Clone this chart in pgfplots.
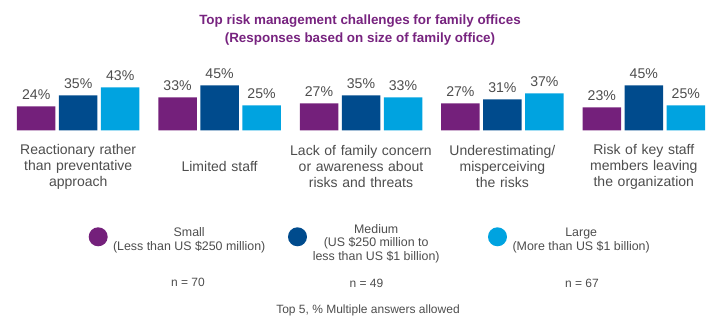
\documentclass[border=0pt]{standalone}
\usepackage{pgfplots}
\pgfplotsset{compat=1.18}
\usepackage{fontspec}
\setmainfont{Liberation Sans}
\definecolor{cpurple}{HTML}{74207B}
\definecolor{cdblue}{HTML}{004B8D}
\definecolor{clblue}{HTML}{00A3E0}
\definecolor{ctext}{HTML}{4D4D4D}
\definecolor{ctitle}{HTML}{77237F}
\pgfplotsset{mycircle/.style={legend image code/.code={\fill (9.5bp,-0.8bp) circle[radius=9.5bp];}}}
\begin{document}
\begin{tikzpicture}
\path[use as bounding box] (0,0) rectangle (720bp,330bp);
\begin{axis}[
  at={(7.5bp,199.5bp)}, anchor=south west,
  x=141.4bp, y=1bp,
  xmin=-0.5, xmax=4.5, ymin=0, ymax=50,
  ybar=3.5bp, bar width=38.5bp,
  axis line style={draw=none}, tick style={draw=none},
  ytick=\empty,
  xtick={0,1,2,3,4},
  xticklabels={{Reactionary rather\\than preventative\\approach},{Limited staff},{Lack of family concern\\or awareness about\\risks and threats},{Underestimating/\\misperceiving\\the risks},{Risk of key staff\\members leaving\\the organization}},
  xticklabel style={anchor=center, yshift=-32bp, text width=150bp, align=center, font=\fontsize{14bp}{16bp}\selectfont, text=ctext},
  /pgf/number format/assume math mode=true,
  nodes near coords={\pgfmathprintnumber{\pgfplotspointmeta}\%},
  every node near coord/.append style={font=\fontsize{14.1bp}{16bp}\selectfont, text=ctext, anchor=south, inner sep=0pt, yshift=6.5bp},
  clip=false,
  legend columns=3,
  legend style={draw=none, fill=none, at={(axis cs:0.0728,-105.5)}, anchor=west, inner sep=0pt, column sep=0pt, font=\fontsize{12.4bp}{13.8bp}\selectfont, text=ctext, nodes={inner sep=0pt}},
]
\addplot[fill=cpurple, draw=none, mycircle] coordinates {(0,24) (1,33) (2,27) (3,27) (4,23)};
\addlegendentry{\makebox[163bp][c]{\begin{tabular}{@{}c@{}}Small\\(Less than US \$250 million)\end{tabular}}\hspace*{17.3bp}}
\addplot[fill=cdblue, draw=none, mycircle] coordinates {(0,35) (1,45) (2,35) (3,31) (4,45)};
\addlegendentry{\makebox[138.4bp][c]{\begin{tabular}{@{}c@{}}Medium\\(US \$250 million to\\less than US \$1 billion)\end{tabular}}\hspace*{42.6bp}}
\addplot[fill=clblue, draw=none, mycircle] coordinates {(0,43) (1,25) (2,33) (3,37) (4,25)};
\addlegendentry{\makebox[148.4bp][c]{\begin{tabular}{@{}c@{}}Large\\(More than US \$1 billion)\end{tabular}}}
\end{axis}
\node[font=\bfseries\fontsize{13.4bp}{18bp}\selectfont, text=ctitle, align=center] at (360bp,300bp) {Top risk management challenges for family offices\\(Responses based on size of family office)};
\node[font=\fontsize{12bp}{14bp}\selectfont, text=ctext] at (188bp,48bp) {n = 70};
\node[font=\fontsize{12bp}{14bp}\selectfont, text=ctext] at (366.5bp,47bp) {n = 49};
\node[font=\fontsize{12bp}{14bp}\selectfont, text=ctext] at (582bp,47bp) {n = 67};
\node[font=\fontsize{12bp}{14bp}\selectfont, text=ctext] at (368bp,20bp) {Top 5, \% Multiple answers allowed};
\end{tikzpicture}
\end{document}
